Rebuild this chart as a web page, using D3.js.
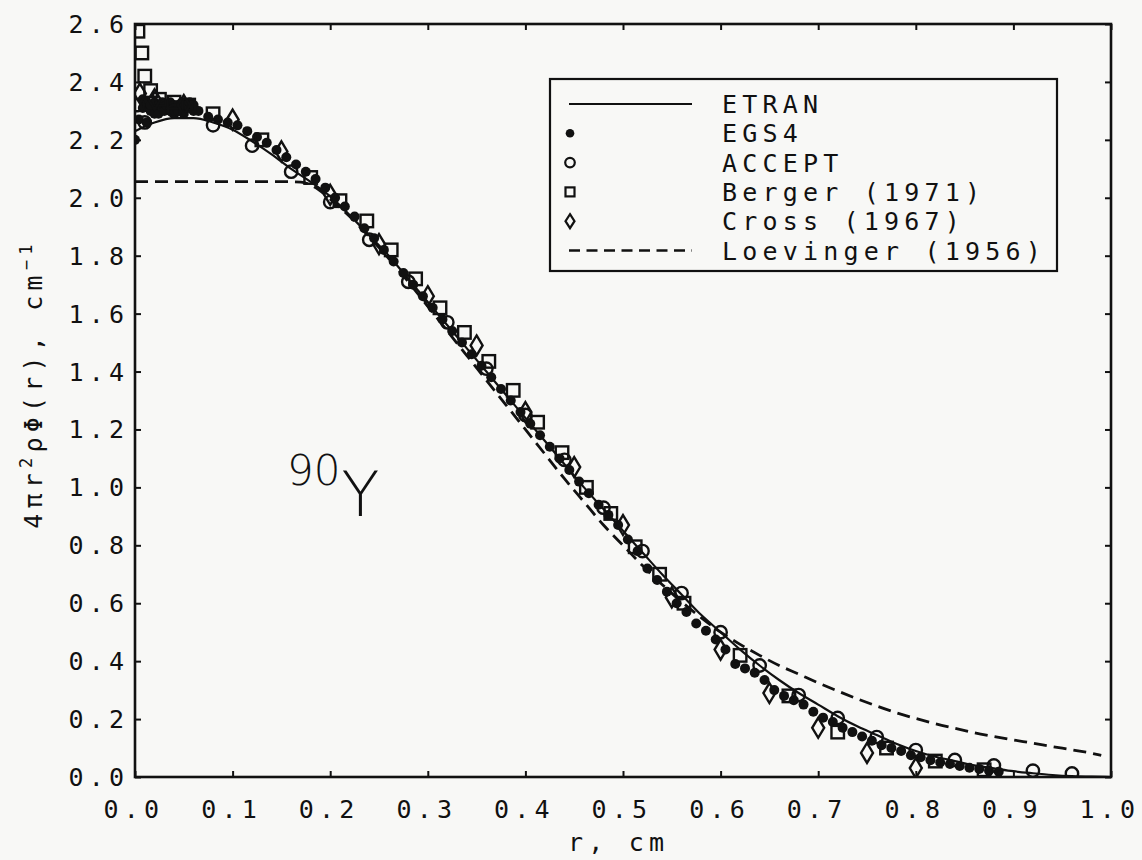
<!DOCTYPE html>
<html>
<head>
<meta charset="utf-8">
<script src="https://cdn.jsdelivr.net/npm/d3@7"></script>
<style>
  html, body { margin: 0; padding: 0; background: #f8f8f6; }
  svg { display: block; }
</style>
</head>
<body>
<svg id="chart" width="1142" height="860"></svg>
<script>
// ---------------- DATA ----------------
const xTicks = [0.0, 0.1, 0.2, 0.3, 0.4, 0.5, 0.6, 0.7, 0.8, 0.9, 1.0];
const yTicks = [0.0, 0.2, 0.4, 0.6, 0.8, 1.0, 1.2, 1.4, 1.6, 1.8, 2.0, 2.2, 2.4, 2.6];

const legendLabels = ["ETRAN", "EGS4", "ACCEPT", "Berger (1971)", "Cross (1967)", "Loevinger (1956)"];

// ETRAN (solid curve): [r, value]
const etran = [
  [0.00, 2.23], [0.02, 2.26], [0.04, 2.275], [0.06, 2.275], [0.08, 2.26], [0.10, 2.235],
  [0.12, 2.195], [0.14, 2.15], [0.16, 2.10], [0.18, 2.055], [0.20, 2.005], [0.22, 1.94],
  [0.24, 1.87], [0.26, 1.80], [0.28, 1.72], [0.30, 1.64], [0.32, 1.56], [0.34, 1.48],
  [0.36, 1.40], [0.38, 1.32], [0.40, 1.24], [0.42, 1.16], [0.44, 1.08], [0.46, 1.00],
  [0.48, 0.925], [0.50, 0.85], [0.52, 0.775], [0.54, 0.70], [0.56, 0.63], [0.58, 0.56],
  [0.60, 0.50], [0.62, 0.44], [0.64, 0.385], [0.66, 0.335], [0.68, 0.29], [0.70, 0.25],
  [0.72, 0.21], [0.74, 0.175], [0.76, 0.145], [0.78, 0.115], [0.80, 0.09], [0.82, 0.07],
  [0.84, 0.055], [0.86, 0.04], [0.88, 0.03], [0.90, 0.02], [0.92, 0.013], [0.94, 0.007],
  [0.96, 0.003], [0.98, 0.001], [1.00, 0.0]
];

// Loevinger (1956) (dashed curve)
const loevinger = [
  [0.00, 2.056], [0.05, 2.056], [0.10, 2.056], [0.15, 2.056], [0.17, 2.054], [0.185, 2.035],
  [0.20, 1.995], [0.22, 1.935], [0.24, 1.865], [0.26, 1.79], [0.28, 1.71], [0.30, 1.625],
  [0.32, 1.54], [0.34, 1.455], [0.36, 1.37], [0.38, 1.285], [0.40, 1.20], [0.42, 1.115],
  [0.44, 1.03], [0.46, 0.95], [0.48, 0.87], [0.50, 0.80], [0.52, 0.73], [0.54, 0.665],
  [0.56, 0.605], [0.58, 0.55], [0.60, 0.50], [0.62, 0.458], [0.64, 0.42], [0.66, 0.385],
  [0.68, 0.355], [0.70, 0.325], [0.72, 0.297], [0.74, 0.27], [0.76, 0.245], [0.78, 0.222],
  [0.80, 0.202], [0.82, 0.184], [0.84, 0.168], [0.86, 0.153], [0.88, 0.14], [0.90, 0.128],
  [0.92, 0.117], [0.94, 0.105], [0.96, 0.094], [0.98, 0.082], [0.99, 0.075]
];

// EGS4 (filled dots)
const egs4 = [
  [0.000, 2.20], [0.004, 2.27], [0.008, 2.31], [0.008, 2.34], [0.012, 2.26], [0.012, 2.33],
  [0.016, 2.30], [0.016, 2.32], [0.020, 2.29], [0.020, 2.33], [0.024, 2.29], [0.024, 2.32],
  [0.028, 2.31], [0.028, 2.33], [0.030, 2.30], [0.032, 2.32], [0.036, 2.30], [0.036, 2.33],
  [0.040, 2.29], [0.040, 2.32], [0.044, 2.30], [0.044, 2.32], [0.048, 2.31], [0.048, 2.33],
  [0.050, 2.29], [0.052, 2.32], [0.056, 2.31], [0.056, 2.33], [0.060, 2.30], [0.060, 2.32],
  [0.065, 2.30], [0.075, 2.28], [0.085, 2.27],
  [0.095, 2.26], [0.105, 2.25], [0.115, 2.23], [0.125, 2.21], [0.135, 2.19], [0.145, 2.165],
  [0.155, 2.14], [0.165, 2.115], [0.175, 2.09], [0.185, 2.065], [0.195, 2.035], [0.205, 2.00],
  [0.215, 1.97], [0.225, 1.935], [0.235, 1.895], [0.245, 1.86], [0.255, 1.82], [0.265, 1.78],
  [0.275, 1.74], [0.285, 1.70], [0.295, 1.66], [0.305, 1.62], [0.315, 1.58], [0.325, 1.54],
  [0.335, 1.50], [0.345, 1.46], [0.355, 1.42], [0.365, 1.38], [0.375, 1.34], [0.385, 1.30],
  [0.395, 1.26], [0.405, 1.22], [0.415, 1.18], [0.425, 1.14], [0.435, 1.10], [0.445, 1.06],
  [0.455, 1.02], [0.465, 0.98], [0.475, 0.94], [0.485, 0.905], [0.495, 0.87], [0.505, 0.82],
  [0.515, 0.78], [0.525, 0.72], [0.535, 0.68], [0.545, 0.64], [0.555, 0.60], [0.565, 0.57],
  [0.575, 0.53], [0.585, 0.505], [0.595, 0.475], [0.605, 0.44], [0.615, 0.39], [0.625, 0.375],
  [0.635, 0.36], [0.645, 0.335], [0.655, 0.30], [0.665, 0.28], [0.675, 0.265], [0.685, 0.25],
  [0.695, 0.225], [0.705, 0.205], [0.715, 0.19], [0.725, 0.17], [0.735, 0.155], [0.745, 0.14],
  [0.755, 0.125], [0.765, 0.11], [0.775, 0.10], [0.785, 0.09], [0.795, 0.075], [0.805, 0.068],
  [0.815, 0.058], [0.825, 0.05], [0.835, 0.045], [0.845, 0.038], [0.855, 0.032], [0.865, 0.028],
  [0.875, 0.022], [0.885, 0.018]
];

// ACCEPT (open circles)
const accept = [
  [0.003, 2.32], [0.010, 2.26], [0.04, 2.30], [0.08, 2.25], [0.12, 2.18], [0.16, 2.09],
  [0.20, 1.985], [0.24, 1.855], [0.28, 1.71], [0.32, 1.57], [0.36, 1.41], [0.40, 1.25],
  [0.44, 1.095], [0.48, 0.93], [0.52, 0.78], [0.56, 0.635], [0.60, 0.50], [0.64, 0.385],
  [0.68, 0.283], [0.72, 0.204], [0.76, 0.138], [0.80, 0.093], [0.84, 0.059], [0.88, 0.040],
  [0.92, 0.022], [0.96, 0.012]
];

// Berger (1971) (open squares)
const berger = [
  [0.003, 2.575], [0.007, 2.50], [0.010, 2.42], [0.016, 2.37], [0.025, 2.34], [0.040, 2.33],
  [0.055, 2.32], [0.080, 2.29], [0.13, 2.20], [0.18, 2.07], [0.21, 1.99], [0.2375, 1.92],
  [0.2625, 1.82], [0.2875, 1.72], [0.3125, 1.62], [0.3375, 1.535], [0.3625, 1.435], [0.3875, 1.335],
  [0.4125, 1.225], [0.4375, 1.12], [0.4625, 1.00], [0.4875, 0.91], [0.5125, 0.795], [0.5375, 0.70],
  [0.5625, 0.60], [0.62, 0.42], [0.67, 0.28], [0.72, 0.155], [0.77, 0.10], [0.82, 0.055],
  [0.87, 0.025]
];

// Cross (1967) (open diamonds)
const cross = [
  [0.005, 2.36], [0.02, 2.34], [0.05, 2.32], [0.10, 2.27], [0.15, 2.16], [0.20, 2.01],
  [0.25, 1.84], [0.30, 1.66], [0.35, 1.49], [0.40, 1.26], [0.45, 1.07], [0.50, 0.87],
  [0.55, 0.62], [0.60, 0.44], [0.65, 0.29], [0.70, 0.17], [0.75, 0.083], [0.80, 0.031]
];

// ---------------- DRAWING ----------------
(function () {
const ink = "#111";
const FONT = "'DejaVu Sans Mono', monospace";
const FS = 25, LS = 5.2;

const svg = d3.select("#chart");
const pL = 135, pR = 1111, pT = 24, pB = 777;

const x = d3.scaleLinear().domain([0, 1]).range([pL, pR]);
const y = d3.scaleLinear().domain([0, 2.6]).range([pB, pT]);

svg.append("defs").append("clipPath").attr("id", "plotclip")
  .append("rect").attr("x", pL).attr("y", pT - 10).attr("width", pR - pL).attr("height", pB - pT + 10);

const gData = svg.append("g").attr("clip-path", "url(#plotclip)");

const line = d3.line().x(d => x(d[0])).y(d => y(d[1])).curve(d3.curveMonotoneX);

gData.append("path").datum(loevinger)
  .attr("d", line).attr("fill", "none").attr("stroke", ink)
  .attr("stroke-width", 2.8).attr("stroke-dasharray", "13,7");

gData.append("path").datum(etran)
  .attr("d", line).attr("fill", "none").attr("stroke", ink).attr("stroke-width", 2.2);

gData.selectAll("circle.egs").data(egs4).enter().append("circle")
  .attr("class", "egs").attr("cx", d => x(d[0])).attr("cy", d => y(d[1]))
  .attr("r", 5).attr("fill", ink);

gData.selectAll("circle.acc").data(accept).enter().append("circle")
  .attr("class", "acc").attr("cx", d => x(d[0])).attr("cy", d => y(d[1]))
  .attr("r", 6.2).attr("fill", "none").attr("stroke", ink).attr("stroke-width", 2.4);

const sq = 12.5;
gData.selectAll("rect.ber").data(berger).enter().append("rect")
  .attr("class", "ber").attr("x", d => x(d[0]) - sq / 2).attr("y", d => y(d[1]) - sq / 2)
  .attr("width", sq).attr("height", sq)
  .attr("fill", "none").attr("stroke", ink).attr("stroke-width", 2.4);

const dw = 6, dh = 10;
gData.selectAll("path.cro").data(cross).enter().append("path")
  .attr("class", "cro")
  .attr("d", d => {
    const cx = x(d[0]), cy = y(d[1]);
    return `M${cx},${cy - dh}L${cx + dw},${cy}L${cx},${cy + dh}L${cx - dw},${cy}Z`;
  })
  .attr("fill", "none").attr("stroke", ink).attr("stroke-width", 2.4);

// frame
svg.append("rect").attr("x", pL).attr("y", pT).attr("width", pR - pL).attr("height", pB - pT)
  .attr("fill", "none").attr("stroke", ink).attr("stroke-width", 2.6);

const tickLen = 6;
const gAx = svg.append("g");
const styleAxis = g => {
  g.select(".domain").remove();
  g.selectAll("line").attr("stroke", ink).attr("stroke-width", 2);
};
gAx.append("g").attr("transform", `translate(0,${pB})`)
  .call(d3.axisBottom(x).tickValues(xTicks).tickSize(-tickLen).tickFormat("")).call(styleAxis);
gAx.append("g").attr("transform", `translate(0,${pT})`)
  .call(d3.axisTop(x).tickValues(xTicks).tickSize(-tickLen).tickFormat("")).call(styleAxis);
gAx.append("g").attr("transform", `translate(${pL},0)`)
  .call(d3.axisLeft(y).tickValues(yTicks).tickSize(-tickLen).tickFormat("")).call(styleAxis);
gAx.append("g").attr("transform", `translate(${pR},0)`)
  .call(d3.axisRight(y).tickValues(yTicks).tickSize(-tickLen).tickFormat("")).call(styleAxis);

const fmt = d3.format(".1f");
svg.append("g").selectAll("text").data(xTicks).enter().append("text")
  .attr("x", d => x(d) - 1).attr("y", 818)
  .attr("text-anchor", "middle")
  .attr("font-family", FONT).attr("font-size", FS).attr("letter-spacing", LS).attr("fill", ink)
  .text(d => fmt(d));

svg.append("g").selectAll("text").data(yTicks).enter().append("text")
  .attr("x", 124 + LS).attr("y", d => y(d) + 9)
  .attr("text-anchor", "end")
  .attr("font-family", FONT).attr("font-size", FS).attr("letter-spacing", LS).attr("fill", ink)
  .text(d => fmt(d));

svg.append("text").attr("x", 568).attr("y", 851)
  .attr("font-family", FONT).attr("font-size", FS).attr("letter-spacing", LS).attr("fill", ink)
  .text("r, cm");

const yt = svg.append("text")
  .attr("transform", "translate(42,384) rotate(-90)")
  .attr("text-anchor", "middle")
  .attr("font-family", FONT).attr("font-size", FS).attr("letter-spacing", LS).attr("fill", ink);
yt.append("tspan").text("4πr");
yt.append("tspan").attr("baseline-shift", "super").attr("font-size", 17).text("2");
yt.append("tspan").text("ρΦ(r), cm");
yt.append("tspan").attr("baseline-shift", "super").attr("font-size", 17).text("−1");

const iso = svg.append("text").attr("x", 287).attr("y", 485)
  .attr("font-family", "'DejaVu Sans', sans-serif").attr("font-weight", 200).attr("fill", ink);
iso.append("tspan").attr("font-size", 42).text("90");
iso.append("tspan").attr("font-size", 62).attr("dy", 31).attr("dx", 1).text("Y");

// legend
const lg = svg.append("g");
lg.append("rect").attr("x", 550).attr("y", 79).attr("width", 507).attr("height", 192)
  .attr("fill", "#f8f8f6").attr("stroke", ink).attr("stroke-width", 2.2);
const rowY = i => 104 + i * 29.3;
const symX = 570;
legendLabels.forEach((lab, i) => {
  lg.append("text").attr("x", 722).attr("y", rowY(i) + 9)
    .attr("font-family", FONT).attr("font-size", FS).attr("letter-spacing", LS).attr("fill", ink)
    .text(lab);
});
lg.append("line").attr("x1", 569).attr("x2", 692).attr("y1", rowY(0)).attr("y2", rowY(0))
  .attr("stroke", ink).attr("stroke-width", 2.2);
lg.append("circle").attr("cx", symX).attr("cy", rowY(1)).attr("r", 4.3).attr("fill", ink);
lg.append("circle").attr("cx", symX).attr("cy", rowY(2)).attr("r", 4.8)
  .attr("fill", "none").attr("stroke", ink).attr("stroke-width", 2.2);
lg.append("rect").attr("x", symX - 4.5).attr("y", rowY(3) - 4.5).attr("width", 9).attr("height", 9)
  .attr("fill", "none").attr("stroke", ink).attr("stroke-width", 2.2);
lg.append("path").attr("d", `M${symX},${rowY(4) - 7}L${symX + 4.5},${rowY(4)}L${symX},${rowY(4) + 7}L${symX - 4.5},${rowY(4)}Z`)
  .attr("fill", "none").attr("stroke", ink).attr("stroke-width", 2.2);
lg.append("line").attr("x1", 569).attr("x2", 692).attr("y1", rowY(5)).attr("y2", rowY(5))
  .attr("stroke", ink).attr("stroke-width", 2.6).attr("stroke-dasharray", "11,6.5");
})();
</script>
</body>
</html>
